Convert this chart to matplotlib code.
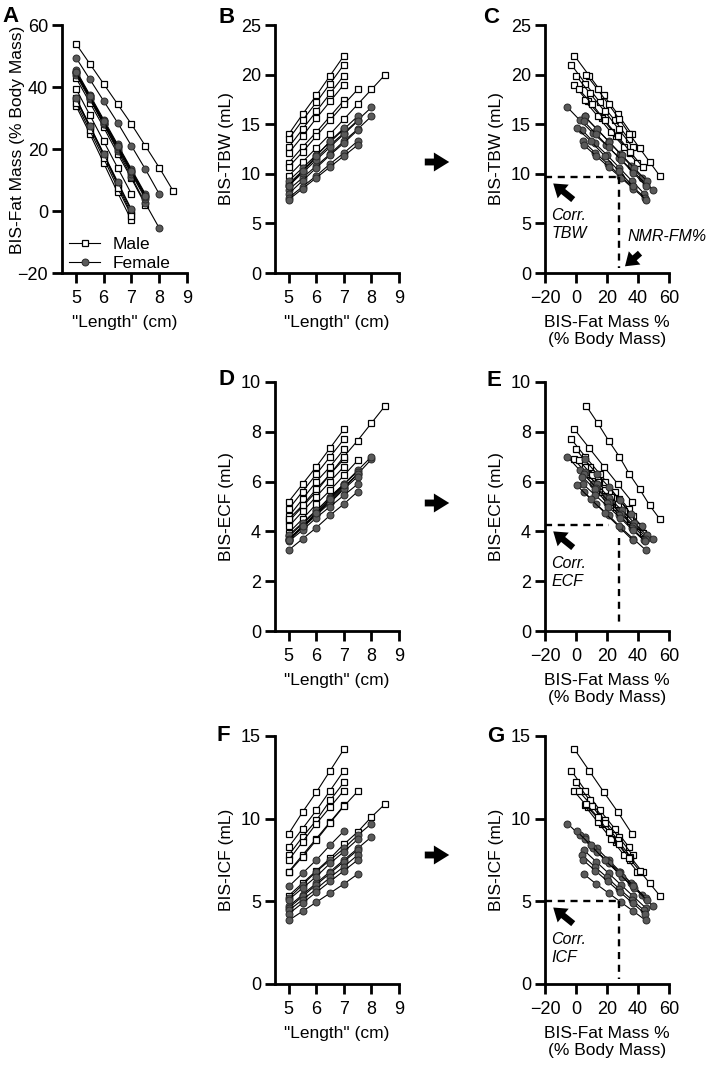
import matplotlib.pyplot as plt
from matplotlib.patches import FancyArrowPatch
from matplotlib.lines import Line2D

plt.rcParams["font.family"] = ["Liberation Sans", "DejaVu Sans"]

# simulated "length" steps (cm); each animal uses the first len(values) of them
lengths = [5.0, 5.5, 6.0, 6.5, 7.0, 7.5, 8.0, 8.5]
sex = ["M", "M", "M", "M", "M", "M", "M",
       "F", "F", "F", "F", "F", "F", "F", "F"]

fat_mass = [
    [36, 27, 18, 8.5, -1],
    [34, 25, 15.5, 6, -3],
    [36.5, 27.5, 18.5, 9, 0],
    [35, 26, 17, 7.5, -1.5],
    [39.5, 31, 22.5, 14, 5.5],
    [43, 35, 27, 18.5, 10.5, 2],
    [54, 47.5, 41, 34.5, 28, 21, 14, 6.5],
    [49.5, 42.5, 35.5, 28.5, 21, 13.5, 5.5],
    [45, 36.5, 28, 19.5, 11, 2.5, -5.5],
    [45.5, 37.5, 29.5, 21.5, 13.5, 5.5],
    [45, 37, 29, 21, 13, 5],
    [44, 36, 28, 20, 12, 4],
    [44.5, 36.5, 28.5, 20.5, 12.5, 4.5],
    [45, 37, 29, 21, 13, 5],
    [36.5, 27.5, 18.5, 9.5, 0.5],
]
tbw = [
    [14.0, 16.0, 17.9, 19.9, 21.9],
    [13.5, 15.4, 17.2, 19.1, 21.0],
    [12.7, 14.5, 16.3, 18.1, 19.9],
    [12.1, 13.8, 15.6, 17.3, 19.0],
    [11.1, 12.7, 14.2, 15.8, 17.4],
    [10.7, 12.2, 13.8, 15.4, 17.0, 18.5],
    [9.8, 11.2, 12.6, 14.0, 15.5, 17.0, 18.5, 20.0],
    [8.4, 9.6, 10.8, 12.0, 13.3, 14.5, 15.8],
    [9.0, 10.3, 11.6, 12.9, 14.1, 15.4, 16.7],
    [9.3, 10.6, 11.9, 13.2, 14.5, 15.8],
    [8.8, 10.1, 11.4, 12.7, 14.0, 15.3],
    [8.0, 9.3, 10.6, 11.9, 13.1, 14.4],
    [7.6, 8.7, 9.8, 11.0, 12.1, 13.3],
    [7.4, 8.5, 9.6, 10.7, 11.8, 12.9],
    [8.8, 10.3, 11.8, 13.3, 14.6],
]
ecf = [
    [5.2, 5.9, 6.6, 7.35, 8.1],
    [4.9, 5.6, 6.3, 7.0, 7.7],
    [4.6, 5.3, 6.0, 6.6, 7.3],
    [4.4, 5.0, 5.6, 6.3, 6.9],
    [4.2, 4.8, 5.4, 6.0, 6.6],
    [3.95, 4.5, 5.1, 5.65, 6.25, 6.85],
    [4.5, 5.05, 5.7, 6.3, 7.0, 7.65, 8.35, 9.05],
    [3.7, 4.2, 4.7, 5.25, 5.8, 6.3, 6.9],
    [3.8, 4.3, 4.8, 5.4, 5.9, 6.45, 7.0],
    [3.85, 4.35, 4.85, 5.35, 5.9, 6.4],
    [3.7, 4.2, 4.7, 5.2, 5.75, 6.3],
    [3.65, 4.15, 4.65, 5.15, 5.7, 6.2],
    [3.6, 4.05, 4.55, 5.0, 5.45, 5.9],
    [3.25, 3.7, 4.15, 4.65, 5.1, 5.6],
    [3.65, 4.2, 4.75, 5.3, 5.85],
]
icf = [
    [9.1, 10.4, 11.6, 12.9, 14.2],
    [8.3, 9.4, 10.5, 11.7, 12.9],
    [7.8, 8.9, 9.9, 11.1, 12.2],
    [7.5, 8.6, 9.7, 10.7, 11.7],
    [6.8, 7.8, 8.8, 9.8, 10.8],
    [6.75, 7.7, 8.7, 9.75, 10.75, 11.65],
    [5.35, 6.1, 6.85, 7.6, 8.45, 9.2, 10.1, 10.9],
    [4.7, 5.4, 6.1, 6.8, 7.5, 8.2, 8.9],
    [5.2, 6.0, 6.8, 7.5, 8.2, 9.0, 9.7],
    [5.1, 5.8, 6.5, 7.3, 8.0, 8.75],
    [4.6, 5.3, 6.0, 6.7, 7.4, 8.1],
    [4.45, 5.1, 5.75, 6.45, 7.1, 7.8],
    [4.25, 4.9, 5.55, 6.2, 6.85, 7.5],
    [3.85, 4.4, 4.95, 5.5, 6.05, 6.65],
    [5.9, 6.7, 7.5, 8.4, 9.25],
]

nmr_fm = 27.5
corr = {"TBW": 9.65, "ECF": 4.25, "ICF": 5.0}
# where the dashed guide lines end / start (the ECF panel has a small gap)
h_end = {"TBW": 27.5, "ECF": 21, "ICF": 27.5}
v_start = {"TBW": 9.65, "ECF": 3.75, "ICF": 5.0}

W, H = 714, 1065
fig = plt.figure(figsize=(W / 100, H / 100), dpi=100)


def px_axes(left, top, right, bottom):
    return fig.add_axes([left / W, 1 - bottom / H, (right - left) / W, (bottom - top) / H])


marker_kw = {
    "M": dict(marker="s", mfc="white", mec="black", ms=4.6, mew=0.9),
    "F": dict(marker="o", mfc="#5a5a5a", mec="#2a2a2a", ms=5.0, mew=0.7),
}


def draw(ax, xs_list, ys_list):
    for s, xs, ys in zip(sex, xs_list, ys_list):
        ax.plot(xs[:len(ys)], ys, color="black", lw=0.8, **marker_kw[s])


def style(ax, xlim, ylim, xticks, yticks, xlabel, ylabel):
    ax.set_xlim(xlim)
    ax.set_ylim(ylim)
    ax.set_xticks(xticks)
    ax.set_yticks(yticks)
    for s in ["top", "right"]:
        ax.spines[s].set_visible(False)
    for s in ["left", "bottom"]:
        ax.spines[s].set_linewidth(2)
    ax.tick_params(width=2, length=7.5, labelsize=13)
    ax.tick_params(axis="x", pad=4.5)
    ax.tick_params(axis="y", pad=2.5)
    ax.set_xlabel(xlabel, fontsize=12.5, labelpad=6)
    ax.set_ylabel(ylabel, fontsize=12.5, labelpad=5)


len_label = '"Length" (cm)'
fm_label = "BIS-Fat Mass %\n(% Body Mass)"
len_lists = [lengths] * len(sex)

cols = [(62, 187), (275, 399), (545, 669)]
rows = [(25, 273), (382, 631), (736, 984)]

# A
axA = px_axes(cols[0][0], rows[0][0], cols[0][1], rows[0][1])
draw(axA, len_lists, fat_mass)
style(axA, (4.5, 9), (-20, 60), [5, 6, 7, 8, 9], [-20, 0, 20, 40, 60],
      len_label, "BIS-Fat Mass (% Body Mass)")
axA.set_ylabel("BIS-Fat Mass (% Body Mass)", fontsize=12.5, va="center")
axA.yaxis.set_label_coords(-0.36, 0.535)
handles = [Line2D([], [], color="black", lw=0.8, **marker_kw["M"]),
           Line2D([], [], color="black", lw=0.8, **marker_kw["F"])]
axA.legend(handles, ["Male", "Female"], loc="lower left", frameon=False,
           fontsize=12.5, handlelength=1.8, handletextpad=0.7,
           borderaxespad=0.0, labelspacing=0.2, bbox_to_anchor=(0.0, -0.02))

panels = [
    ("TBW", tbw, (0, 25), [0, 5, 10, 15, 20, 25], 0),
    ("ECF", ecf, (0, 10), [0, 2, 4, 6, 8, 10], 1),
    ("ICF", icf, (0, 15), [0, 5, 10, 15], 2),
]
arr = "simple,head_length=0.8,head_width=1.1,tail_width=0.4"
for name, vals, ylim, yticks, r in panels:
    top, bottom = rows[r]
    axL = px_axes(cols[1][0], top, cols[1][1], bottom)
    draw(axL, len_lists, vals)
    style(axL, (4.5, 9), ylim, [5, 6, 7, 8, 9], yticks, len_label, f"BIS-{name} (mL)")

    axR = px_axes(cols[2][0], top, cols[2][1], bottom)
    draw(axR, fat_mass, vals)
    style(axR, (-20, 60), ylim, [-20, 0, 20, 40, 60], yticks, fm_label, f"BIS-{name} (mL)")

    c = corr[name]
    span = ylim[1]
    axR.plot([-20, h_end[name]], [c, c], color="black", lw=1.7, ls=(0, (3, 2.4)))
    axR.plot([nmr_fm, nmr_fm], [v_start[name], 0.02 * span], color="black", lw=1.7,
             ls=(0, (3, 2.4)))
    axR.annotate("", xy=(-14.7, c - 0.025 * span), xytext=(-1.8, c - 0.09 * span),
                 arrowprops=dict(arrowstyle=arr, mutation_scale=11.5, color="black", lw=0,
                                 shrinkA=0, shrinkB=0))
    axR.text(-16, c - 0.19 * span, f"Corr.\n{name}", fontsize=11.5, style="italic",
             va="center", ha="left", linespacing=1.2)
    if name == "TBW":
        axR.annotate("", xy=(31.6, 0.027 * span), xytext=(41.3, 0.08 * span),
                     arrowprops=dict(arrowstyle=arr, mutation_scale=11.5, color="black", lw=0,
                                     shrinkA=0, shrinkB=0))
        axR.text(33, 0.148 * span, "NMR-FM%", fontsize=11.5, style="italic",
                 va="center", ha="left")

# arrows between columns
for y in [162, 503, 855]:
    fig.add_artist(FancyArrowPatch((422 / W, 1 - y / H), (452 / W, 1 - y / H),
                                   transform=fig.transFigure,
                                   arrowstyle="simple,head_length=0.85,head_width=1.05,tail_width=0.38",
                                   mutation_scale=13, color="black", lw=0))

# panel letters
for letter, x, y in [("A", 2, 22), ("B", 218, 23), ("C", 483, 23), ("D", 218, 385),
                     ("E", 487, 386), ("F", 217, 741), ("G", 487, 742)]:
    fig.text(x / W, 1 - y / H, letter, fontsize=16, fontweight="bold",
             ha="left", va="baseline")

fig.savefig("out.png", dpi=100)
